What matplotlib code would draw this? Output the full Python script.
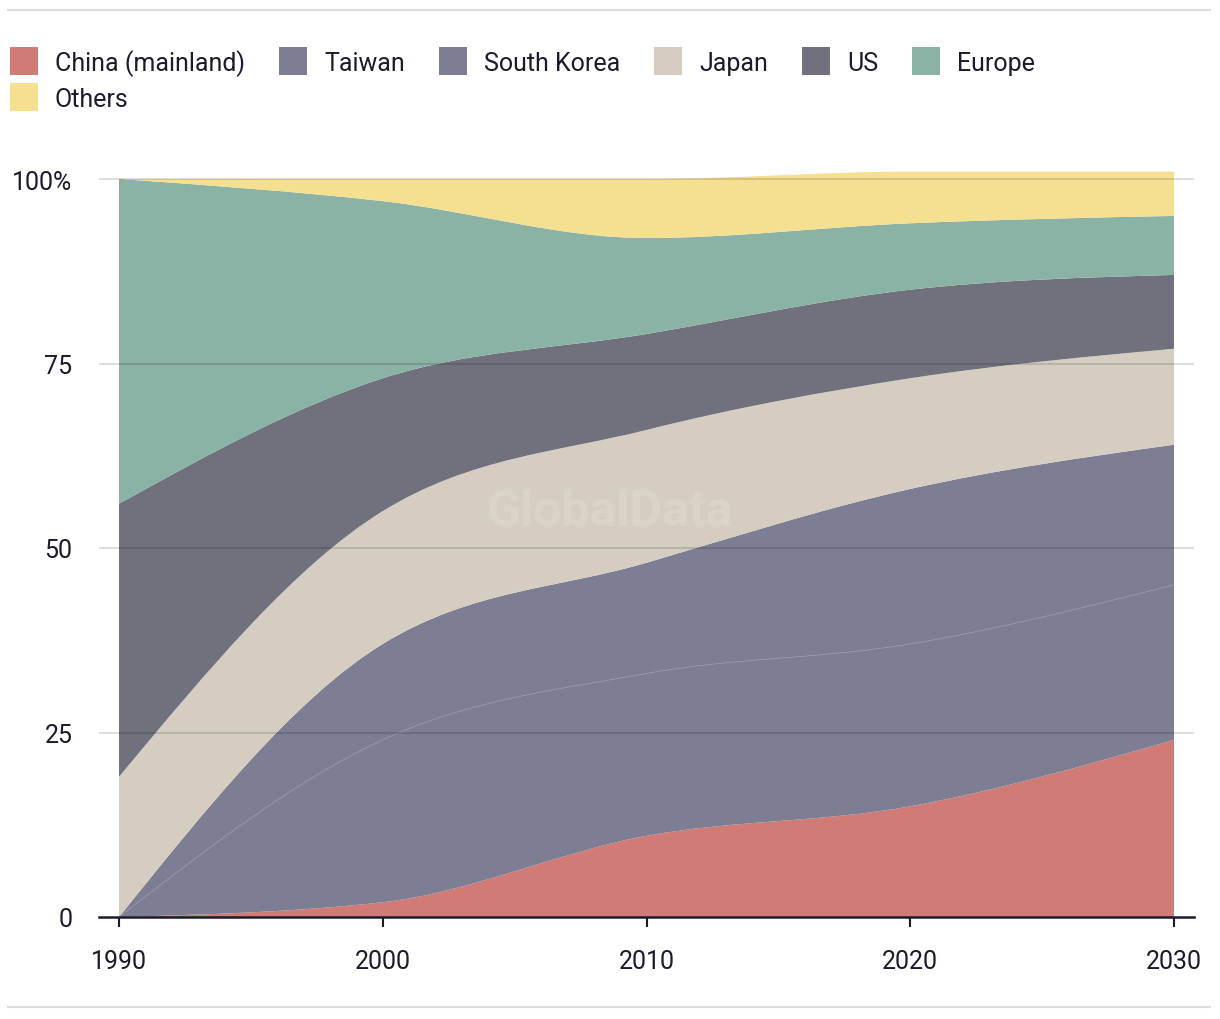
import matplotlib
matplotlib.use("Agg")
import matplotlib.pyplot as plt
import numpy as np
from matplotlib.path import Path
from matplotlib.patches import PathPatch, Rectangle
from matplotlib.lines import Line2D

# Share of capacity by region (%)
years = [1990, 2000, 2010, 2020, 2030]
series = ['China (mainland)', 'Taiwan', 'South Korea', 'Japan', 'US', 'Europe', 'Others']
china = [0, 2, 11, 15, 24]
taiwan = [0, 22, 22, 22, 21]
south_korea = [0, 13, 15, 21, 19]
japan = [19, 18, 18, 15, 13]
us = [37, 18, 13, 12, 10]
europe = [44, 24, 13, 9, 8]
others = [0, 3, 8, 7, 6]
colors = ['#d07b75', '#7d7d93', '#7d7d93', '#d5cdc1', '#71707d', '#8ab2a5', '#f5df91']

y_ticks = [0, 25, 50, 75, 100]
y_ticklabels = ['0', '25', '50', '75', '100%']

plt.rcParams['font.family'] = ['Roboto', 'DejaVu Sans']
TXT = '#1c1b2d'


def monotone_slopes(x, y):
    # same tangents as d3.curveMonotoneX
    x = np.asarray(x, float)
    y = np.asarray(y, float)
    n = len(x)
    h = np.diff(x)
    s = np.diff(y) / h
    t = np.zeros(n)
    for i in range(1, n - 1):
        p = (s[i - 1] * h[i] + s[i] * h[i - 1]) / (h[i - 1] + h[i])
        t[i] = (np.sign(s[i - 1]) + np.sign(s[i])) * min(abs(s[i - 1]), abs(s[i]), 0.5 * abs(p))
    t[0] = (3 * s[0] - t[1]) / 2
    t[-1] = (3 * s[-1] - t[-2]) / 2
    return t


def bezier_vertices(x, y):
    t = monotone_slopes(x, y)
    verts = [(x[0], y[0])]
    for i in range(len(x) - 1):
        dx = (x[i + 1] - x[i]) / 3
        verts += [(x[i] + dx, y[i] + dx * t[i]),
                  (x[i + 1] - dx, y[i + 1] - dx * t[i + 1]),
                  (x[i + 1], y[i + 1])]
    return verts


def area_path(x, y0, y1):
    top = bezier_vertices(x, y1)
    bot = bezier_vertices(x[::-1], y0[::-1])
    verts = top + [bot[0]] + bot[1:] + [top[0]]
    codes = ([Path.MOVETO] + [Path.CURVE4] * (len(top) - 1) + [Path.LINETO]
             + [Path.CURVE4] * (len(bot) - 1) + [Path.CLOSEPOLY])
    return Path(verts, codes)


fig = plt.figure(figsize=(12.2, 10.2), dpi=100)
W, H = 1220, 1020
ymax = 102
ax = fig.add_axes([99 / W, 1 - 918 / H, (1194 - 99) / W, ymax * 7.38 / H])

data = [china, taiwan, south_korea, japan, us, europe, others]
xs = np.array(years, float)
base = np.zeros(len(years))
for vals, col in zip(data, colors):
    top = base + np.array(vals, float)
    ax.add_patch(PathPatch(area_path(xs, base, top), facecolor=col, edgecolor='none',
                           antialiased=True, zorder=1))
    base = top

# faint seam between Taiwan and South Korea
seam = np.array(china, float) + np.array(taiwan, float)
sv = bezier_vertices(xs, seam)
ax.add_patch(PathPatch(Path(sv, [Path.MOVETO] + [Path.CURVE4] * (len(sv) - 1)),
                       facecolor='none', edgecolor='#9293a8', lw=0.6, zorder=2))

ax.set_xlim(1990 - 20 / 26.37, 2030 + 20 / 26.37)
ax.set_ylim(0, ymax)

for yv in y_ticks[1:]:
    ax.axhline(yv, color='black', alpha=0.13, lw=1.5, zorder=3)

ax.set_xticks(years)
ax.set_xticklabels([str(y) for y in years])
ax.set_yticks(y_ticks)
ax.set_yticklabels(y_ticklabels)
ax.tick_params(axis='x', length=7.2, width=1.5, color=TXT, pad=16, labelsize=18, labelcolor=TXT)
ax.tick_params(axis='y', length=0, pad=19, labelsize=18, labelcolor=TXT)
for s in ['left', 'right', 'top']:
    ax.spines[s].set_visible(False)
ax.spines['bottom'].set_color(TXT)
ax.spines['bottom'].set_linewidth(1.8)
ax.spines['bottom'].set_zorder(4)

# watermark
fig.text(610 / W, 1 - 512 / H, 'GlobalData', fontsize=36, fontweight='bold',
         color='white', alpha=0.12, ha='center', va='center')

# legend drawn by hand so it wraps like the original
renderer = fig.canvas.get_renderer()
x, row_y = 10, 62
for name, col in zip(series, colors):
    t = fig.text(0, 0, name, fontsize=18, color=TXT, va='center', ha='left')
    tw = t.get_window_extent(renderer).width
    if x + 45 + tw > 1100:
        x, row_y = 10, row_y + 36
    fig.add_artist(Rectangle((x / W, 1 - (row_y + 14) / H), 28 / W, 28 / H,
                             transform=fig.transFigure, facecolor=col, edgecolor='none'))
    t.set_position(((x + 45) / W, 1 - (row_y + 2) / H))
    x = x + 45 + tw + 34

# separators
for yy in [11, 1008]:
    fig.add_artist(Line2D([8 / W, 1210 / W], [1 - yy / H] * 2, color='#dddddd', lw=1.5))

fig.savefig('out.png', dpi=100)
